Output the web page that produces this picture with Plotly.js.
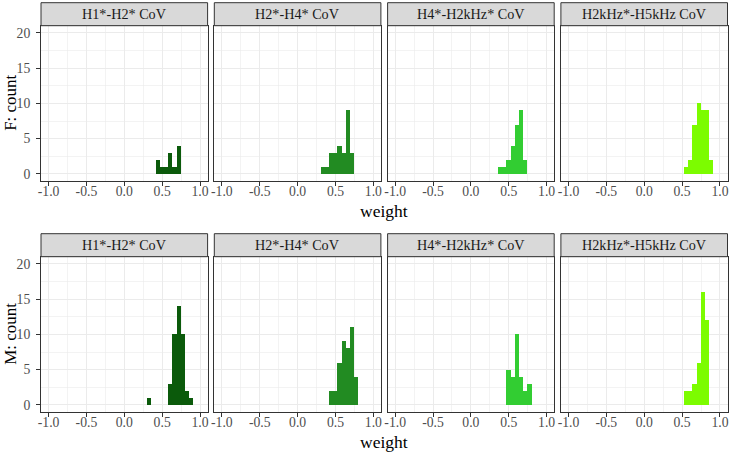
<!DOCTYPE html>
<html>
<head>
<meta charset="utf-8">
<script src="https://cdn.plot.ly/plotly-3.0.1.min.js"></script>
<style>html,body{margin:0;padding:0;background:#fff;}#chart{width:730px;height:453px;}</style>
</head>
<body>
<div id="chart"></div>
<script>
// ---- data ----
const panelLabels = ["H1*-H2* CoV", "H2*-H4* CoV", "H4*-H2kHz* CoV", "H2kHz*-H5kHz CoV"];
const rowLabels = ["F: count", "M: count"];
const binWidth = 0.0555;
const binCenters = [0.2753, 0.3308, 0.3863, 0.4418, 0.4973, 0.5528, 0.6083, 0.6638, 0.7193, 0.7748, 0.8303, 0.8858];
const countsF_H1H2   = [0, 0, 0, 2, 1, 1, 3, 1, 4, 0, 0, 0];
const countsF_H2H4   = [0, 1, 1, 3, 3, 4, 3, 9, 3, 0, 0, 0];
const countsF_H4H2k  = [0, 0, 1, 1, 2, 4, 7, 9, 2, 0, 0, 0];
const countsF_H2kH5k = [0, 0, 0, 0, 0, 1, 2, 7, 10, 9, 9, 2];
const countsM_H1H2   = [0, 1, 0, 0, 0, 0, 3, 10, 14, 10, 2, 1];
const countsM_H2H4   = [0, 0, 0, 2, 2, 6, 9, 8, 11, 4, 0, 0];
const countsM_H4H2k  = [0, 0, 0, 0, 5, 4, 10, 4, 2, 3, 0, 0];
const countsM_H2kH5k = [0, 0, 0, 0, 0, 2, 2, 3, 6, 16, 12, 0];
const xTickVals = [-1, -0.5, 0, 0.5, 1];
const xTickText = ["-1.0", "-0.5", "0.0", "0.5", "1.0"];
const yTickVals = [0, 5, 10, 15, 20];
const yTickText = ["0", "5", "10", "15", "20"];
const xTitle = "weight";

const panelColors = ["#0B5A0B", "#228B22", "#32CD32", "#7CFC00"];
const allCounts = [countsF_H1H2, countsF_H2H4, countsF_H4H2k, countsF_H2kH5k,
                   countsM_H1H2, countsM_H2H4, countsM_H4H2k, countsM_H2kH5k];

// ---- geometry (px) ----
const W = 730, H = 453;
const colLeft = [41, 214.3, 387.6, 560.9], colW = 166.6;
const rowTop = [25.7, 256.7], rowH = 155.3, stripH = 23;
const FONT = "Liberation Serif, Times New Roman, serif";

const traces = [];
const layout = {
  width: W, height: H, margin: {l: 0, r: 0, t: 0, b: 0},
  paper_bgcolor: "#fff", plot_bgcolor: "#fff", showlegend: false,
  font: {family: FONT}, bargap: 0,
  shapes: [], annotations: []
};

for (let r = 0; r < 2; r++) {
  for (let c = 0; c < 4; c++) {
    const i = r * 4 + c;
    const n = i + 1;
    const xa = n === 1 ? "x" : "x" + n;
    const ya = n === 1 ? "y" : "y" + n;
    traces.push({
      type: "bar", x: binCenters, y: allCounts[i], width: binWidth,
      xaxis: xa, yaxis: ya,
      marker: {color: panelColors[c], line: {width: 0}},
      hoverinfo: "x+y"
    });
    const x0 = colLeft[c] / W, x1 = (colLeft[c] + colW) / W;
    const yTopPx = rowTop[r], yBotPx = rowTop[r] + rowH;
    const y0 = 1 - yBotPx / H, y1 = 1 - yTopPx / H;
    layout["xaxis" + (n === 1 ? "" : n)] = {
      domain: [x0, x1], anchor: ya, range: [-1.1, 1.1],
      tickmode: "array", tickvals: xTickVals, ticktext: xTickText,
      ticks: "outside", ticklen: 4, tickwidth: 1, tickcolor: "#333333",
      ticklabelstandoff: -6,
      tickfont: {family: FONT, size: 13.7, color: "#4D4D4D"},
      showgrid: true, gridcolor: "#EBEBEB", gridwidth: 1,
      minor: {tickvals: [-0.75, -0.25, 0.25, 0.75], showgrid: true, gridcolor: "#EBEBEB", gridwidth: 0.6, ticks: ""},
      zeroline: false, showline: true, linecolor: "#333333", linewidth: 1, mirror: true,
      fixedrange: true
    };
    layout["yaxis" + (n === 1 ? "" : n)] = {
      domain: [y0, y1], anchor: xa, range: [-1, 21],
      tickmode: "array", tickvals: yTickVals, ticktext: yTickText,
      showticklabels: c === 0,
      ticks: c === 0 ? "outside" : "", ticklen: 4, tickwidth: 1, tickcolor: "#333333",
      ticklabelstandoff: 3,
      tickfont: {family: FONT, size: 13.7, color: "#4D4D4D"},
      showgrid: true, gridcolor: "#EBEBEB", gridwidth: 1,
      minor: {tickvals: [2.5, 7.5, 12.5, 17.5], showgrid: true, gridcolor: "#EBEBEB", gridwidth: 0.6, ticks: ""},
      zeroline: false, showline: true, linecolor: "#333333", linewidth: 1, mirror: true,
      fixedrange: true
    };
    // strip
    const sy0 = 1 - rowTop[r] / H, sy1 = 1 - (rowTop[r] - stripH) / H;
    layout.shapes.push({type: "rect", xref: "paper", yref: "paper",
      x0: x0, x1: x1, y0: sy0, y1: sy1,
      fillcolor: "#D9D9D9", line: {color: "#333333", width: 1}, layer: "above"});
    layout.annotations.push({xref: "paper", yref: "paper",
      x: (x0 + x1) / 2, y: (sy0 + sy1) / 2, xanchor: "center", yanchor: "middle",
      text: panelLabels[c], showarrow: false,
      font: {family: FONT, size: 14.2, color: "#1A1A1A"}});
  }
  // row y title
  layout.annotations.push({xref: "paper", yref: "paper",
    x: 10.5 / W, y: 1 - (rowTop[r] + rowH / 2) / H, xanchor: "center", yanchor: "middle",
    text: rowLabels[r], textangle: -90, showarrow: false,
    font: {family: FONT, size: 17, color: "#000"}});
  // x title
  layout.annotations.push({xref: "paper", yref: "paper",
    x: (colLeft[0] + colLeft[3] + colW) / 2 / W, y: 1 - (rowTop[r] + rowH + 30) / H,
    xanchor: "center", yanchor: "middle",
    text: xTitle, showarrow: false,
    font: {family: FONT, size: 17.5, color: "#000"}});
}

Plotly.newPlot("chart", traces, layout, {staticPlot: true, displayModeBar: false});
</script>
</body>
</html>
